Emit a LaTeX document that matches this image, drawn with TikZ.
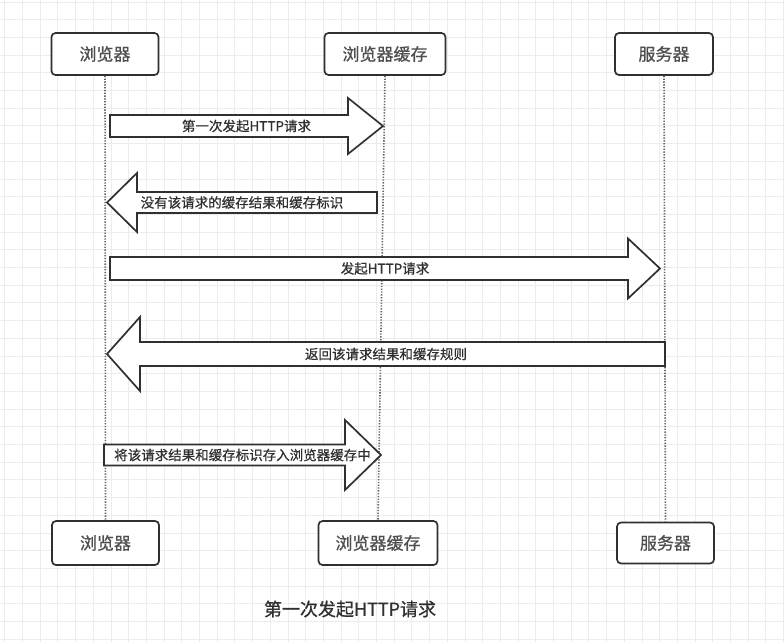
\documentclass[tikz,border=0pt]{standalone}
\usepackage{fontspec}
\newfontfamily\cjk[FakeBold=0.7]{Noto Sans CJK SC}
\definecolor{gridc}{HTML}{ECECEC}
\definecolor{ink}{HTML}{303030}
\newcommand\blockarr[8]{% name, tail x, tip x, y, half body, half head, head base x, text
  \draw[barrow] (#2,#4-#5) -- (#7,#4-#5) -- (#7,#4-#6) -- (#3,#4) -- (#7,#4+#6) -- (#7,#4+#5) -- (#2,#4+#5) -- cycle;
  \node[alabel] (#1) at ({(#2+#3)/2},#4) {#8};}
\begin{document}
\begin{tikzpicture}[x=1pt,y=-1pt,
  actor/.style={draw=ink, line width=1.7pt, rounded corners=4pt, fill=white,
    minimum width=107pt, minimum height=42pt, inner sep=0pt,
    font=\cjk\fontsize{17}{20}\selectfont, text=ink!85},
  life/.style={draw=ink!75, line width=1.6pt, dash pattern=on 1.3pt off 1.5pt},
  barrow/.style={draw=ink, line width=1.7pt, fill=white, line join=miter},
  alabel/.style={font=\cjk\fontsize{13.5}{16}\selectfont, text=ink, inner sep=0pt},
  capt/.style={font=\cjk\fontsize{18}{22}\selectfont, text=ink}]
\useasboundingbox[fill=white] (0,0) rectangle (784,642);
% grid
\foreach \i in {0,...,44} \draw[gridc, line width=0.9pt] (4.8+\i*17.7,0) -- (4.8+\i*17.7,642);
\foreach \j in {0,...,36} \draw[gridc, line width=0.9pt] (0,2+\j*17.7) -- (784,2+\j*17.7);
% actors
\node[actor] (b1) at (105,54) {浏览器};
\node[actor, minimum width=121pt] (c1) at (385,54) {浏览器缓存};
\node[actor, minimum width=98pt] (s1) at (664,54) {服务器};
\node[actor, minimum height=44pt] (b2) at (105.5,543) {浏览器};
\node[actor, minimum width=119pt, minimum height=44pt] (c2) at (378,543) {浏览器缓存};
\node[actor, minimum width=97pt, minimum height=41pt] (s2) at (665.5,543) {服务器};
% lifelines
\draw[life] (b1.south) -- (b2.north);
\draw[life] (c1.south) -- (c2.north);
\draw[life] (s1.south) -- (s2.north);
% messages
\blockarr{m1}{110}{383}{126}{11}{28}{348}{第一次发起HTTP请求}
\blockarr{m2}{377}{107}{202.5}{10.5}{29.5}{137}{没有该请求的缓存结果和缓存标识}
\blockarr{m3}{110}{660}{268.5}{11.5}{30}{628}{发起HTTP请求}
\blockarr{m4}{665}{107}{354}{12}{37}{140}{返回该请求结果和缓存规则}
\blockarr{m5}{104}{381}{455}{10.5}{35}{345}{将该请求结果和缓存标识存入浏览器缓存中}
% caption
\node[capt] (cap) at (350,609) {第一次发起HTTP请求};
\end{tikzpicture}
\end{document}
